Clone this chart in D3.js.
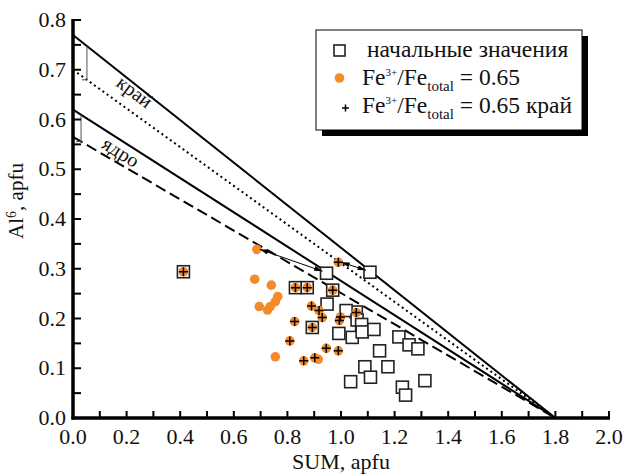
<!DOCTYPE html>
<html>
<head>
<meta charset="utf-8">
<script src="https://cdn.jsdelivr.net/npm/d3@7"></script>
<style>
  body { margin: 0; background: #fff; }
  svg text { font-family: "Liberation Serif", "Times New Roman", "DejaVu Serif", serif; fill: #111; }
</style>
</head>
<body>
<div id="chart"></div>
<script>
// data (SUM, Al6)
var squares = [
  [0.412, 0.294], [0.830, 0.262], [0.874, 0.262], [0.946, 0.291], [1.108, 0.293],
  [0.969, 0.257], [0.948, 0.229], [0.893, 0.182], [1.057, 0.213], [1.019, 0.216],
  [0.992, 0.170], [1.042, 0.162], [1.060, 0.197], [1.077, 0.188], [1.079, 0.173],
  [1.123, 0.178], [1.216, 0.163], [1.254, 0.147], [1.287, 0.139], [1.144, 0.135],
  [1.089, 0.103], [1.175, 0.103], [1.036, 0.073], [1.110, 0.082], [1.229, 0.062],
  [1.241, 0.046], [1.313, 0.075]
];
var orangeOnly = [
  [0.686, 0.339], [0.678, 0.279], [0.740, 0.267], [0.764, 0.244], [0.755, 0.234],
  [0.736, 0.224], [0.726, 0.217], [0.695, 0.224], [0.755, 0.123], [0.915, 0.118]
];
var plusPoints = [
  [0.412, 0.294], [0.830, 0.262], [0.874, 0.262], [0.969, 0.257], [0.990, 0.313],
  [0.890, 0.225], [0.918, 0.216], [0.930, 0.202], [0.827, 0.194], [0.893, 0.182],
  [0.994, 0.196], [0.998, 0.203], [1.057, 0.212], [0.809, 0.155], [0.861, 0.115],
  [0.902, 0.121], [0.945, 0.140], [0.990, 0.135]
];
// arrows: from orange point to initial square
var arrows = [
  [[0.686, 0.339], [0.946, 0.291]],
  [[0.990, 0.313], [1.108, 0.293]]
];
// boundary lines: y-intercept -> (1.8, 0)
var lineEnd = 1.8;
var boundLines = [
  { y0: 0.77, dash: null },
  { y0: 0.70, dash: "2,3.2" },
  { y0: 0.62, dash: null },
  { y0: 0.565, dash: "11,5" }
];
var xTicks = d3.range(0, 2.01, 0.2);
var xMinor = d3.range(0, 2.01, 0.1);
var yTicks = d3.range(0, 0.81, 0.1);
var yMinor = d3.range(0, 0.81, 0.05);

const svgWidth = 626;
const svgHeight = 476;
const margin = { top: 20, right: 17, bottom: 58, left: 73 };
var width = svgWidth - margin.left - margin.right;
var height = svgHeight - margin.top - margin.bottom;

var svg = d3.select("#chart").append("svg")
  .attr("width", svgWidth)
  .attr("height", svgHeight);

var chart = svg.append("g")
  .attr("transform", `translate(${margin.left}, ${margin.top})`);

var x = d3.scaleLinear().domain([0, 2]).range([0, width]);
var y = d3.scaleLinear().domain([0, 0.8]).range([height, 0]);

// boundary lines
chart.selectAll(".bound")
  .data(boundLines)
  .enter().append("line")
  .attr("x1", x(0)).attr("y1", d => y(d.y0))
  .attr("x2", x(lineEnd)).attr("y2", y(0))
  .attr("stroke", "#000")
  .attr("stroke-width", 2)
  .attr("stroke-dasharray", d => d.dash);

// small brackets between line pairs
function yOn(y0, v) { return y0 - y0 / lineEnd * v; }
var brackets = [{ at: 0.052, top: 0.77, bot: 0.70 }, { at: 0.030, top: 0.62, bot: 0.565 }];
brackets.forEach(function(b) {
  var xb = x(b.at);
  chart.append("path")
    .attr("d", `M${xb - 5},${y(yOn(b.bot, b.at))} H${xb} V${y(yOn(b.top, b.at))}`)
    .attr("fill", "none")
    .attr("stroke", "#555")
    .attr("stroke-width", 1);
});

// line labels
chart.append("text")
  .attr("transform", `translate(${x(0.215)}, ${y(0.645)}) rotate(37)`)
  .attr("text-anchor", "middle")
  .attr("font-size", 20)
  .text("край");
chart.append("text")
  .attr("transform", `translate(${x(0.165)}, ${y(0.523)}) rotate(32)`)
  .attr("text-anchor", "middle")
  .attr("font-size", 20)
  .text("ядро");

// initial values - open squares
var sq = 12;
chart.selectAll(".sq")
  .data(squares)
  .enter().append("rect")
  .attr("x", d => x(d[0]) - sq / 2)
  .attr("y", d => y(d[1]) - sq / 2)
  .attr("width", sq).attr("height", sq)
  .attr("fill", "#fff")
  .attr("stroke", "#222")
  .attr("stroke-width", 1.6);

// Fe3+/Fetotal = 0.65 - orange dots
chart.selectAll(".dot")
  .data(orangeOnly.concat(plusPoints))
  .enter().append("circle")
  .attr("cx", d => x(d[0]))
  .attr("cy", d => y(d[1]))
  .attr("r", 4.8)
  .attr("fill", "#f58a2a");

// rim points - plus
chart.selectAll(".plus")
  .data(plusPoints)
  .enter().append("path")
  .attr("d", d => `M${x(d[0]) - 4.5},${y(d[1])} h9 M${x(d[0])},${y(d[1]) - 4.5} v9`)
  .attr("stroke", "#000")
  .attr("stroke-width", 1.5);

// arrows
var defs = svg.append("defs");
defs.append("marker")
  .attr("id", "head")
  .attr("viewBox", "0 0 10 6")
  .attr("refX", 10).attr("refY", 3)
  .attr("markerWidth", 10).attr("markerHeight", 5)
  .attr("markerUnits", "userSpaceOnUse")
  .attr("orient", "auto-start-reverse")
  .append("path")
  .attr("d", "M0,0 L10,3 L0,6 Z")
  .attr("fill", "#000");

chart.selectAll(".arrow")
  .data(arrows)
  .enter().append("line")
  .attr("x1", d => x(d[0][0]) + 3).attr("y1", d => y(d[0][1]))
  .attr("x2", d => x(d[1][0]) - 4).attr("y2", d => y(d[1][1]) - 2)
  .attr("stroke", "#000")
  .attr("stroke-width", 1)
  .attr("marker-start", "url(#head)")
  .attr("marker-end", "url(#head)");

// axes
var xAxis = chart.append("g").attr("transform", `translate(0, ${height})`);
xAxis.selectAll(".xt")
  .data(xMinor)
  .enter().append("line")
  .attr("x1", d => x(d)).attr("x2", d => x(d))
  .attr("y1", 0).attr("y2", -7)
  .attr("stroke", "#000").attr("stroke-width", 2);
xAxis.append("line")
  .attr("x1", -1.5).attr("x2", width + 1)
  .attr("y1", 0).attr("y2", 0)
  .attr("stroke", "#000").attr("stroke-width", 3.5);
xAxis.selectAll(".xl")
  .data(xTicks)
  .enter().append("text")
  .attr("x", d => x(d))
  .attr("y", 26)
  .attr("text-anchor", "middle")
  .attr("font-size", 22)
  .text(d => d3.format(".1f")(d));

var yAxis = chart.append("g");
yAxis.selectAll(".yt")
  .data(yMinor)
  .enter().append("line")
  .attr("x1", 0).attr("x2", 8)
  .attr("y1", d => y(d)).attr("y2", d => y(d))
  .attr("stroke", "#000").attr("stroke-width", 2);
yAxis.append("line")
  .attr("x1", 0).attr("x2", 0)
  .attr("y1", -1).attr("y2", height + 1.5)
  .attr("stroke", "#000").attr("stroke-width", 3.5);
yAxis.selectAll(".yl")
  .data(yTicks)
  .enter().append("text")
  .attr("x", -7)
  .attr("y", d => y(d) + 7)
  .attr("text-anchor", "end")
  .attr("font-size", 22)
  .text(d => d3.format(".1f")(d));

// axis titles
chart.append("text")
  .attr("x", width / 2)
  .attr("y", height + 51)
  .attr("text-anchor", "middle")
  .attr("font-size", 22)
  .text("SUM, apfu");

var yTitle = chart.append("text")
  .attr("transform", `translate(${-50}, ${height / 2 - 18}) rotate(-90)`)
  .attr("text-anchor", "middle")
  .attr("font-size", 21);
yTitle.append("tspan").text("Al");
yTitle.append("tspan").attr("dy", -7).attr("font-size", 14).text("6");
yTitle.append("tspan").attr("dy", 7).text(", apfu");

// legend box with shadow
var legend = svg.append("g").attr("transform", "translate(316, 30)");
legend.append("rect")
  .attr("x", 6).attr("y", 6)
  .attr("width", 266).attr("height", 100)
  .attr("fill", "#000");
legend.append("rect")
  .attr("x", 0).attr("y", 0)
  .attr("width", 266).attr("height", 100)
  .attr("fill", "#fff")
  .attr("stroke", "#000")
  .attr("stroke-width", 1);

legend.append("rect")
  .attr("x", 18).attr("y", 15)
  .attr("width", 11).attr("height", 11)
  .attr("fill", "#fff").attr("stroke", "#222").attr("stroke-width", 1.6);
legend.append("text")
  .attr("x", 51).attr("y", 27)
  .attr("font-size", 23.5)
  .text("начальные значения");

legend.append("circle")
  .attr("cx", 23.5).attr("cy", 48)
  .attr("r", 4.8)
  .attr("fill", "#f58a2a");
legend.append("path")
  .attr("d", "M26,78 h7 M29.5,74.5 v7")
  .attr("stroke", "#000").attr("stroke-width", 1.5);

function feLabel(yPos, tail) {
  var t = legend.append("text")
    .attr("x", 46).attr("y", yPos)
    .attr("font-size", 23.5);
  t.append("tspan").text("Fe");
  t.append("tspan").attr("dy", -9).attr("font-size", 11).text("3+");
  t.append("tspan").attr("dy", 9).text("/Fe");
  t.append("tspan").attr("dy", 6).attr("font-size", 15).text("total");
  t.append("tspan").attr("dy", -6).text(" = 0.65" + tail);
}
feLabel(55, "");
feLabel(83, " край");
</script>
</body>
</html>
